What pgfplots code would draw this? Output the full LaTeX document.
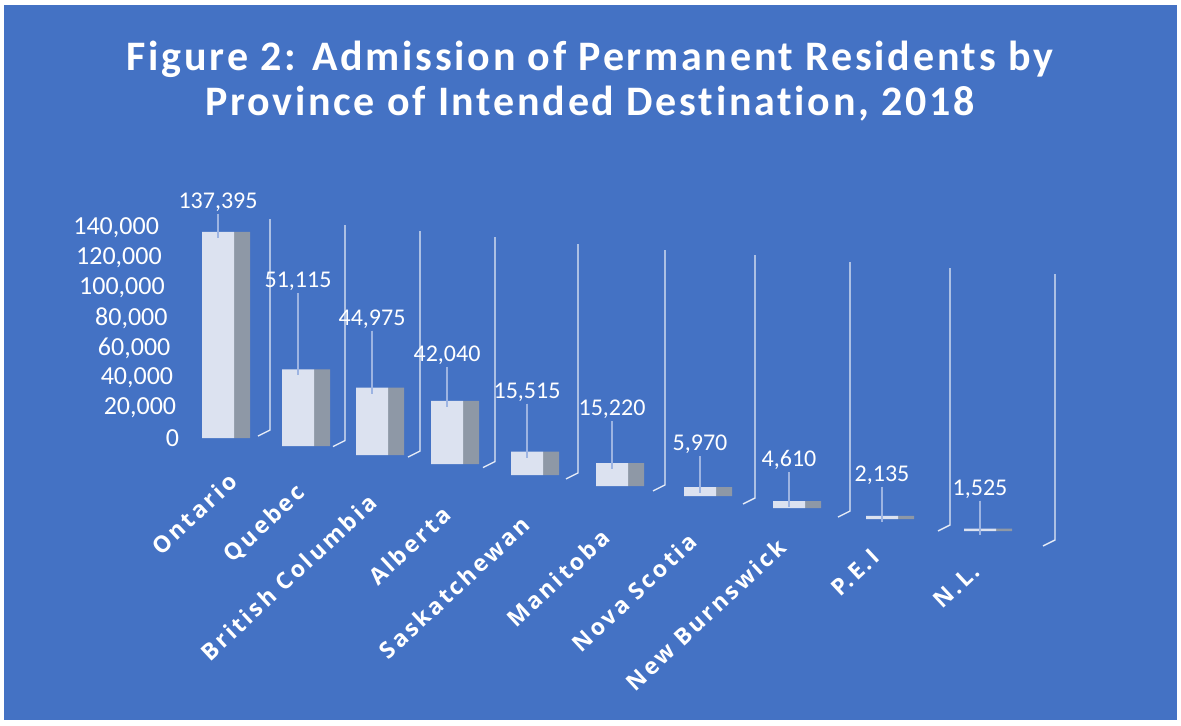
\documentclass[border=0pt]{standalone}
\usepackage{fontspec}
\setmainfont{Carlito}
\newfontfamily\labfont[LetterSpace=12]{Open Sans}
\newfontfamily\titlefont[LetterSpace=6.5,Ligatures={NoCommon,NoContextual}]{Carlito}
\usepackage{pgfplots}
\usepackage{pgfplotstable}
\pgfplotsset{compat=1.18}
\definecolor{bg}{HTML}{4472C4}
\definecolor{front}{HTML}{DCE2F0}
\definecolor{side}{HTML}{8E98A6}
\definecolor{leader}{HTML}{9DB4E2}
\definecolor{wall}{HTML}{E4EAF6}
% x = horizontal place of each province, floor = height of the (perspective) floor under the bar,
% val = residents, dy = label lift (pt)
\pgfplotstableread{
x   floor   val     dy
218 62000   137395  9
298 56667   51115   38
372 50667   44975   28.5
447 44667   42040   17
527 37333   15515   24
612 30000   15220   21
700 23333   5970    15.5
789 15333   4610    14.5
882 8000    2135    14.5
980 0       1525    14
}\datatable
\def\lx{{20,9,6,5,4,-1,-2,-2,-1,1}}
\def\ly{{73,61,52,40,30,17,13,7,-3,-17}}
\pgfplotsset{
  common/.style={
    at={(90pt,89.5pt)}, anchor=south west,
    scale only axis, width=445pt, height=166.5pt,
    xmin=180, xmax=1070, ymin=-10000, ymax=212000,
    clip=false, axis line style={draw=none},
    major tick length=0pt, minor tick length=0pt,
    scaled y ticks=false, scaled x ticks=false,
    ybar stacked,
  }
}
\begin{document}
\begin{tikzpicture}[x=1pt,y=1pt]
\fill[white] (0,0) rectangle (590.5,362.5);
\fill[bg] (2,2.5) rectangle (588.5,360);
\node[font=\titlefont\bfseries\fontsize{21}{22.5}\selectfont, text=white, align=center] at (295,322) {Figure 2: Admission of Permanent Residents by\\Province of Intended Destination, 2018};
% back wall lines and side faces
\begin{axis}[common, hide axis, bar width=8pt, bar shift=12pt]
\foreach \xx/\tp/\bt in {270/208000/67300, 345/204000/60300, 420/200000/53300, 495/196000/46300, 578/191300/38700, 665/187300/30700, 755/184000/22000, 850/179300/13300, 950/175300/4000, 1055/171300/-6000}{
  \edef\tmp{\noexpand\draw[wall, line width=0.7pt] (axis cs:\xx,\tp) -- (axis cs:\xx,\bt) -- (axis cs:\xx-12,\bt-4000);}\tmp
}
\addplot[draw=none, fill=none] table[x=x,y=floor]{\datatable};
\addplot[fill=side, draw=none] table[x=x,y=val]{\datatable};
\end{axis}
% front faces, labels
\begin{axis}[common, bar width=16pt, bar shift=0pt,
  xtick={218,298,372,447,527,612,700,789,882,980},
  xticklabels={Ontario,Quebec,British Columbia,Alberta,Saskatchewan,Manitoba,Nova Scotia,New Burnswick,P.E.I,N.L.},
  xticklabel style={xshift={\lx[\ticknum]*0.5pt}, yshift={\ly[\ticknum]*0.5pt}, rotate=43, anchor=east, text=white, font=\labfont\bfseries\fontsize{11.5}{12}\selectfont},
  ytick={62000,82000,...,202000},
  yticklabels={0\kern-3pt,{20,000\kern-1.6pt},{40,000\kern-0.1pt},{60,000\kern1.3pt},{80,000\kern2.7pt},{100,000\kern4.1pt},{120,000\kern5.6pt},{140,000\kern7pt}},
  yticklabel style={text=white, font=\fontsize{13}{14}\selectfont},
  /pgf/number format/.cd, fixed, precision=0, 1000 sep={,}, assume math mode=true,
]
\addplot[draw=none, fill=none] table[x=x,y=floor]{\datatable};
\addplot[fill=front, draw=none, point meta=explicit,
  visualization depends on={\thisrow{dy}+0.000375*\thisrow{val}\as\labdy},
  visualization depends on={\thisrow{dy}\as\leaddy},
  nodes near coords,
  nodes near coords style={anchor=south, inner sep=1pt, yshift=\labdy pt, text=white, font=\fontsize{12}{12}\selectfont,
    append after command={(\tikzlastnode.south) edge[draw=leader, line width=0.8pt] ++(0pt,-\leaddy pt-3pt)}}]
  table[x=x,y=val,meta=val]{\datatable};
\end{axis}
\end{tikzpicture}
\end{document}
